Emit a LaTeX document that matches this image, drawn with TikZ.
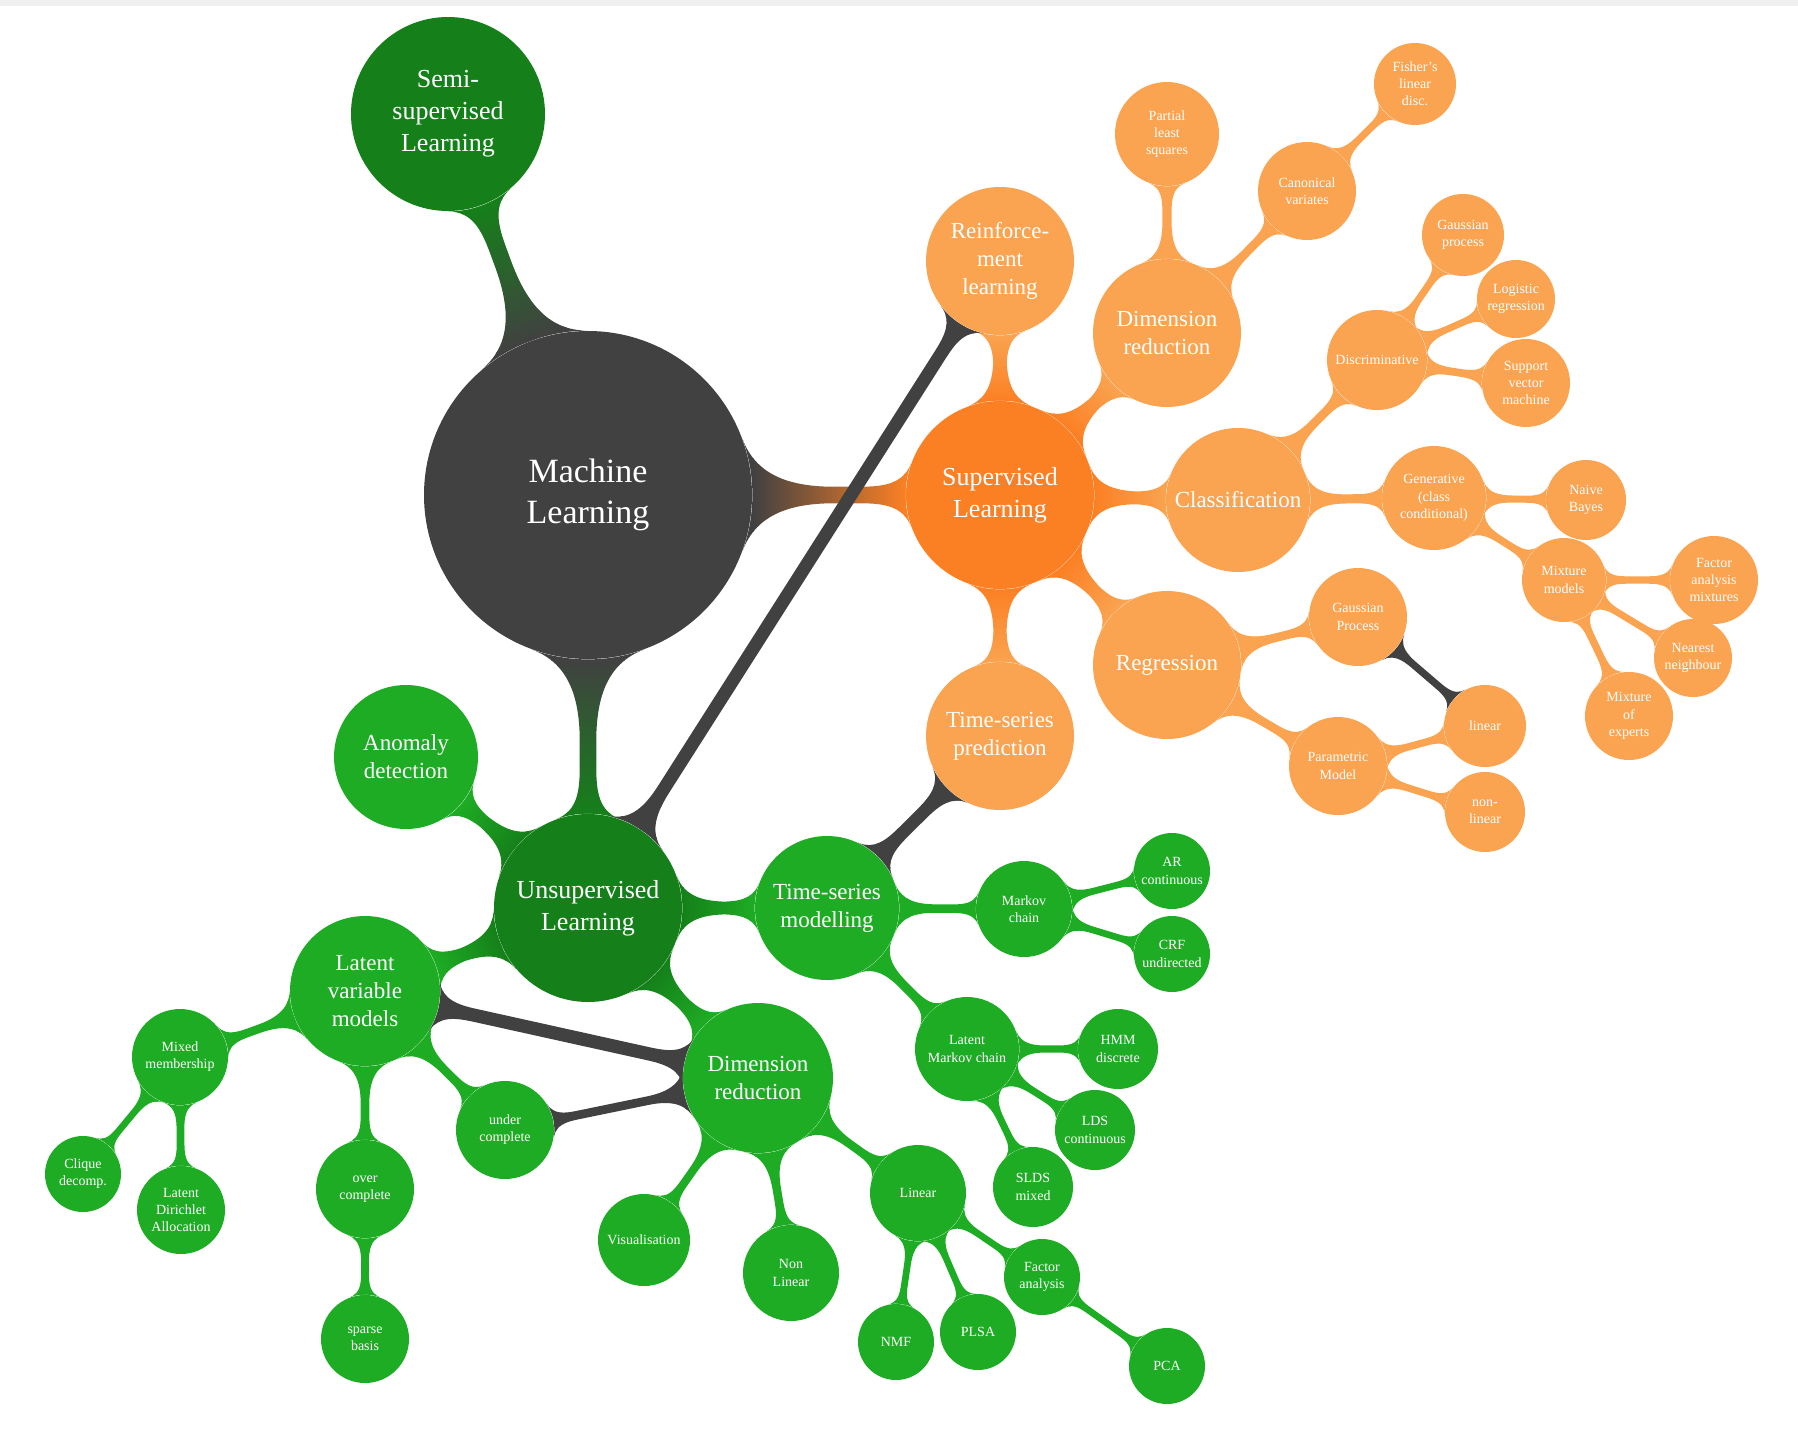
\documentclass[tikz,border=0pt]{standalone}
\usepackage{fontspec}
\setmainfont{Liberation Serif}
\usetikzlibrary{mindmap,backgrounds}

\definecolor{mlgray}{RGB}{65,65,65}
\definecolor{darkgreen}{RGB}{21,128,26}
\definecolor{leafgreen}{RGB}{30,172,36}
\definecolor{suporange}{RGB}{251,128,36}
\definecolor{leaforange}{RGB}{250,163,80}

\begin{document}
\begin{tikzpicture}[
    x=0.5pt, y=-0.5pt,
    bubble/.style={circle, inner sep=0pt, align=center, text=white},
    mlroot/.style={bubble, fill=mlgray, minimum size=164pt, font=\fontsize{17}{20.5}\selectfont},
    branch/.style={bubble, fill=#1, minimum size=94pt, font=\fontsize{13}{16}\selectfont},
    topic/.style={bubble, fill=#1, minimum size=74pt, font=\fontsize{11.5}{14}\selectfont},
    subtopic/.style={bubble, fill=#1, minimum size=49pt, font=\fontsize{7}{8.6}\selectfont},
    leaf/.style={bubble, fill=#1, minimum size=41pt, font=\fontsize{7}{8.6}\selectfont},
    joint/.style 2 args={line width=5pt, circle connection bar switch color=from (#1) to (#2)}
]

\fill[black!6] (0,0) rectangle (1798,6);

% Hub and main branches
\node[mlroot] (ml) at (588,495) {Machine\\Learning};
\node[branch=darkgreen, minimum size=97pt] (semi) at (448,114) {Semi-\\supervised\\Learning};
\node[branch=suporange] (sup) at (1000,495) {Supervised\\Learning};
\node[branch=darkgreen] (unsup) at (588,908) {Unsupervised\\Learning};

% Supervised branch
\node[topic=leaforange] (reinf) at (1000,261) {Reinforce-\\ment\\learning};
\node[topic=leaforange] (sdim) at (1167,333) {Dimension\\reduction};
\node[subtopic=leaforange, minimum size=52pt] (pls) at (1167,134) {Partial\\least\\squares};
\node[subtopic=leaforange] (canon) at (1307,191) {Canonical\\variates};
\node[leaf=leaforange] (fisher) at (1415,84) {Fisher's\\linear\\disc.};
\node[topic=leaforange, minimum size=72pt] (classif) at (1238,500) {Classification};
\node[subtopic=leaforange, minimum size=50pt] (discr) at (1377,360) {Discriminative};
\node[leaf=leaforange] (gproc) at (1463,235) {Gaussian\\process};
\node[leaf=leaforange, minimum size=39pt] (logreg) at (1516,299) {Logistic\\regression};
\node[leaf=leaforange, minimum size=44pt] (svm) at (1526,383) {Support\\vector\\machine};
\node[subtopic=leaforange, minimum size=52pt] (gener) at (1434,498) {Generative\\(class\\conditional)};
\node[leaf=leaforange, minimum size=40pt] (naive) at (1586,500) {Naive\\Bayes};
\node[subtopic=leaforange, minimum size=42pt] (mixt) at (1564,580) {Mixture\\models};
\node[leaf=leaforange, minimum size=44pt] (famix) at (1714,580) {Factor\\analysis\\mixtures};
\node[leaf=leaforange, minimum size=39pt] (nearest) at (1693,658) {Nearest\\neighbour};
\node[leaf=leaforange, minimum size=44pt] (moe) at (1629,716) {Mixture\\of\\experts};
\node[topic=leaforange] (regr) at (1167,665) {Regression};
\node[subtopic=leaforange] (gpreg) at (1358,617) {Gaussian\\Process};
\node[leaf=leaforange] (lin) at (1485,726) {linear};
\node[subtopic=leaforange] (param) at (1338,766) {Parametric\\Model};
\node[leaf=leaforange, minimum size=40pt] (nonlin) at (1485,812) {non-\\linear};
\node[topic=leaforange] (tsp) at (1000,736) {Time-series\\prediction};

% Unsupervised branch
\node[topic=leafgreen, minimum size=72pt] (anom) at (406,757) {Anomaly\\detection};
\node[topic=leafgreen, minimum size=72pt] (tsm) at (827,908) {Time-series\\modelling};
\node[subtopic=leafgreen, minimum size=48pt] (markov) at (1024,909) {Markov\\chain};
\node[leaf=leafgreen, minimum size=38pt] (ar) at (1172,871) {AR\\continuous};
\node[leaf=leafgreen, minimum size=38pt] (crf) at (1172,954) {CRF\\undirected};
\node[subtopic=leafgreen, minimum size=52pt] (lmc) at (967,1049) {Latent\\Markov chain};
\node[leaf=leafgreen, minimum size=40pt] (hmm) at (1118,1049) {HMM\\discrete};
\node[leaf=leafgreen, minimum size=40pt] (lds) at (1095,1130) {LDS\\continuous};
\node[leaf=leafgreen, minimum size=40pt] (slds) at (1033,1187) {SLDS\\mixed};
\node[topic=leafgreen, minimum size=75pt] (lvm) at (365,991) {Latent\\variable\\models};
\node[subtopic=leafgreen, minimum size=48pt] (mixed) at (180,1057) {Mixed\\membership};
\node[leaf=leafgreen, minimum size=38pt] (clique) at (83,1174) {Clique\\decomp.};
\node[leaf=leafgreen, minimum size=44pt] (lda) at (181,1210) {Latent\\Dirichlet\\Allocation};
\node[subtopic=leafgreen] (over) at (365,1189) {over\\complete};
\node[leaf=leafgreen, minimum size=44pt] (sparse) at (365,1339) {sparse\\basis};
\node[subtopic=leafgreen] (under) at (505,1130) {under\\complete};
\node[topic=leafgreen, minimum size=75pt] (gdim) at (758,1078) {Dimension\\reduction};
\node[subtopic=leafgreen, minimum size=46pt] (visu) at (644,1240) {Visualisation};
\node[subtopic=leafgreen, minimum size=48pt] (nonl) at (791,1273) {Non\\Linear};
\node[subtopic=leafgreen, minimum size=48pt] (glin) at (918,1193) {Linear};
\node[leaf=leafgreen, minimum size=38pt] (nmf) at (896,1342) {NMF};
\node[leaf=leafgreen, minimum size=38pt] (plsa) at (978,1332) {PLSA};
\node[leaf=leafgreen, minimum size=38pt] (fa) at (1042,1277) {Factor\\analysis};
\node[leaf=leafgreen, minimum size=38pt] (pca) at (1167,1366) {PCA};

\begin{scope}[on background layer]
    % hub links
    \path (ml) to[joint={mlgray}{darkgreen}, line width=7pt] (semi);
    \path (ml) to[joint={mlgray}{suporange}, line width=7pt] (sup);
    \path (ml) to[joint={mlgray}{darkgreen}, line width=8pt] (unsup);

    % supervised links
    \foreach \a/\b in {sup/reinf, sup/sdim, sup/classif, sup/regr, sup/tsp}
        \path (\a) to[joint={suporange}{leaforange}, line width=6pt] (\b);
    \foreach \a/\b in {sdim/pls, sdim/canon, canon/fisher, classif/discr, classif/gener,
                       discr/gproc, discr/logreg, discr/svm, gener/naive, gener/mixt,
                       mixt/famix, mixt/nearest, mixt/moe, regr/gpreg, regr/param,
                       param/lin, param/nonlin}
        \path (\a) to[joint={leaforange}{leaforange}] (\b);

    % unsupervised links
    \foreach \a/\b in {unsup/anom, unsup/tsm, unsup/lvm, unsup/gdim}
        \path (\a) to[joint={darkgreen}{leafgreen}, line width=6pt] (\b);
    \foreach \a/\b in {tsm/markov, tsm/lmc, markov/ar, markov/crf, lmc/hmm, lmc/lds,
                       lmc/slds, lvm/mixed, lvm/over, lvm/under, mixed/clique, mixed/lda,
                       over/sparse, gdim/visu, gdim/nonl, gdim/glin, glin/nmf,
                       glin/plsa, glin/fa, fa/pca}
        \path (\a) to[joint={leafgreen}{leafgreen}] (\b);

    % cross links
    \foreach \a/\b in {reinf/unsup, tsp/tsm, gpreg/lin, lvm/gdim, under/gdim}
        \path (\a) to[joint={mlgray}{mlgray}, line width=6.5pt] (\b);
\end{scope}

\useasboundingbox (0,0) rectangle (1798,1440);
\end{tikzpicture}
\end{document}
